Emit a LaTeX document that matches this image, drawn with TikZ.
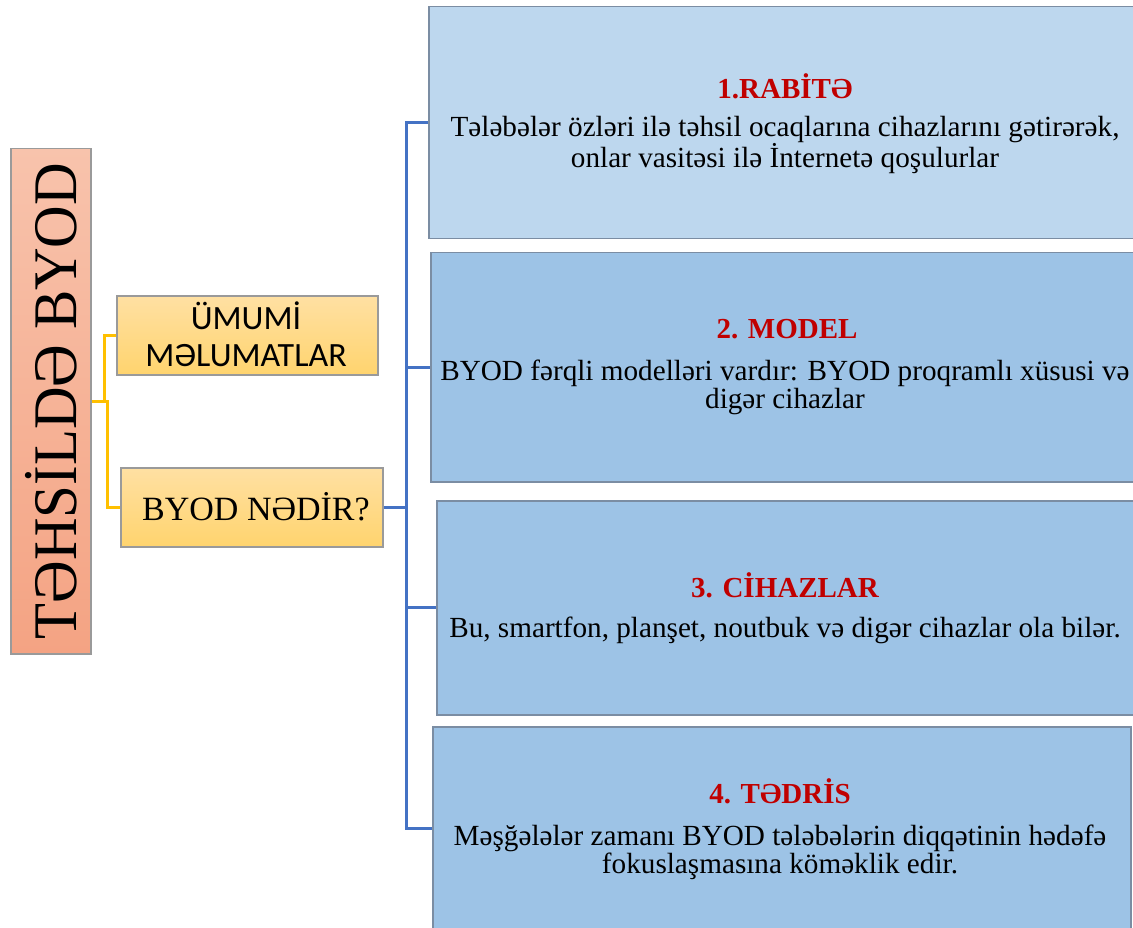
\documentclass[tikz,border=0pt]{standalone}
\usepackage{fontspec}
\setmainfont{Liberation Serif}
\newfontfamily\sansfnt{Carlito}
\newfontfamily\condserif[FakeStretch=0.95]{Liberation Serif}
\definecolor{salmonTop}{HTML}{F8C3AC}
\definecolor{salmonBot}{HTML}{F4A383}
\definecolor{orTop}{HTML}{FFE0A3}
\definecolor{orBot}{HTML}{FFD46E}
\definecolor{blueA}{HTML}{BDD7EE}
\definecolor{blueB}{HTML}{9DC3E6}
\definecolor{bluebrd}{HTML}{7B8DA3}
\definecolor{graybrd}{HTML}{9A9A9A}
\definecolor{yline}{HTML}{FFC000}
\definecolor{bline}{HTML}{4472C4}
\definecolor{ttl}{HTML}{C00000}
\tikzset{
  box/.style={rectangle, anchor=north west, inner sep=0pt, line width=1.5pt},
  salmonbox/.style={box, draw=graybrd, top color=salmonTop, bottom color=salmonBot},
  orbox/.style={box, draw=graybrd, top color=orTop, bottom color=orBot},
  bluebox/.style={box, draw=bluebrd},
  txt/.style={inner sep=0pt, align=center, font=\fontsize{29.2}{28}\selectfont},
  ttltxt/.style={inner sep=0pt, text=ttl, font=\fontsize{29}{30}\selectfont\bfseries},
  yconn/.style={draw=yline, line width=2.8pt},
  bconn/.style={draw=bline, line width=2.8pt},
}
\begin{document}
\begin{tikzpicture}[x=1pt,y=-1pt]
\useasboundingbox (0,0) rectangle (1133,928);
\clip (0,0) rectangle (1133,928);
\fill[white] (0,0) rectangle (1133,928);
% left title box
\node[salmonbox, minimum width=80pt, minimum height=505pt] (main) at (10,148) {};
\node[inner sep=0pt, rotate=90, font=\condserif\fontsize{62}{62}\selectfont] (maintxt) at (51,401) {TƏHSİLDƏ BYOD};
% middle boxes
\node[orbox, minimum width=261pt, minimum height=79pt] (umumi) at (116,295) {};
\node[inner sep=0pt, align=center, font=\sansfnt\fontsize{34}{37}\selectfont] (umumitxt) at (246,334) {ÜMUMİ\\MƏLUMATLAR};
\node[orbox, minimum width=262pt, minimum height=79pt] (byod) at (120,467) {};
\node[inner sep=0pt, font=\fontsize{34}{36}\selectfont] (byodtxt) at (256,507) {BYOD NƏDİR?};
% right boxes
\node[bluebox, fill=blueA, minimum width=707pt, minimum height=232pt] (b1) at (428,6) {};
\node[bluebox, fill=blueB, minimum width=705pt, minimum height=229pt] (b2) at (430,252) {};
\node[bluebox, fill=blueB, minimum width=699pt, minimum height=214pt] (b3) at (436,500) {};
\node[bluebox, fill=blueB, minimum width=698pt, minimum height=204pt] (b4) at (432,726) {};
% texts
\node[ttltxt] (t1) at (785,86) {1.RABİTƏ};
\node[txt] (d1) at (785,145) {Tələbələr özləri ilə təhsil ocaqlarına cihazlarını gətirərək,\\onlar vasitəsi ilə İnternetə qoşulurlar};
\node[ttltxt] (t2) at (787,329) {2. MODEL};
\node[txt] (d2) at (785,387) {BYOD fərqli modelləri vardır: BYOD proqramlı xüsusi və\\digər cihazlar};
\node[ttltxt] (t3) at (785,585) {3. CİHAZLAR};
\node[txt] (d3) at (785,630) {Bu, smartfon, planşet, noutbuk və digər cihazlar ola bilər.};
\node[ttltxt] (t4) at (780,791) {4. TƏDRİS};
\node[txt] (d4) at (780,852) {Məşğələlər zamanı BYOD tələbələrin diqqətinin hədəfə\\fokuslaşmasına köməklik edir.};
% connectors
\draw[yconn] (main.east) -- ++(13,0) |- (umumi.west);
\draw[yconn] (main.east) -- ++(16,0) |- (byod.west);
\draw[bconn] (byod.east) -- ++(23,0) coordinate (bj);
\draw[bconn] (bj) |- (b1.west);
\draw[bconn] (bj) |- (b2.west);
\draw[bconn] (bj) |- (b3.west);
\draw[bconn] (bj) |- (b4.west);
\end{tikzpicture}
\end{document}
